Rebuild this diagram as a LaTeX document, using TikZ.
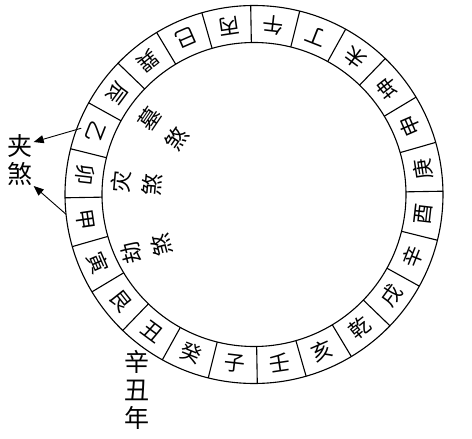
\documentclass[tikz,border=0pt]{standalone}
\usepackage{fontspec}
\newfontfamily\cjk{Noto Sans CJK SC}
\usetikzlibrary{arrows.meta}
\begin{document}
\begin{tikzpicture}[x=1pt,y=1pt,
  ringline/.style={line width=1.1pt},
  mtn/.style={font=\cjk\fontsize{21}{21}\selectfont, inner sep=0pt},
  lbl/.style={font=\cjk\fontsize{22}{22}\selectfont, inner sep=0pt},
  side/.style={font=\cjk\fontsize{25}{25}\selectfont, inner sep=1pt},
  arr/.style={line width=0.9pt, -{Triangle[length=10pt,width=8pt]}}]
\useasboundingbox (-254,-244.5) rectangle (218,194.5);
\fill[white] (-254,-244.5) rectangle (218,194.5);
\draw[ringline] (0,0) circle (189);
\draw[ringline] (0,0) circle (152);
\foreach \c [count=\i from 0] in {子,壬,亥,乾,戌,辛,酉,庚,申,坤,未,丁,午,丙,巳,巽,辰,乙,卯,甲,寅,艮,丑,癸} {
  \pgfmathsetmacro\a{263.5+15*\i}
  \pgfmathsetmacro\r{\a+90}
  \node[mtn, rotate=\r] (m\i) at (\a:170.5) {\c};
  \draw[ringline] (\a+7.5:152) -- (\a+7.5:189);
}
% inner labels
\node[lbl, rotate=56] (mu) at (-105,75.5) {墓};
\node[lbl, rotate=56] (musha) at (-77,56) {煞};
\node[lbl, rotate=85] (zai) at (-133,12.5) {灾};
\node[lbl, rotate=85] (zaisha) at (-102,9.5) {煞};
\node[lbl, rotate=105] (jie) at (-122,-58.5) {劫};
\node[lbl, rotate=105] (jiesha) at (-92,-50.5) {煞};
% side labels
\node[side] (jia) at (-234,48.5) {夹};
\node[side] (jiasha) at (-234,20.5) {煞};
\node[side] (xin) at (-117,-167.5) {辛};
\node[side] (chou) at (-117,-195.5) {丑};
\node[side] (nian) at (-117,-223.5) {年};
% arrows
\coordinate (s1) at (159:185);
\coordinate (s2) at (186:189);
\draw[arr] (s1) -- (jia);
\draw[arr] (s2) -- (jiasha);
\end{tikzpicture}
\end{document}
